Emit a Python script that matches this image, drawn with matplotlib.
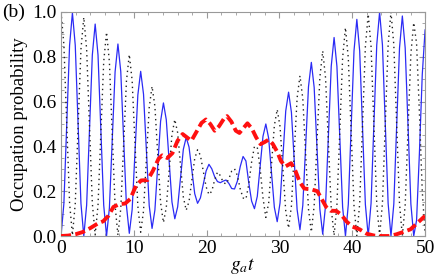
import numpy as np
import matplotlib
matplotlib.use("Agg")
import matplotlib.pyplot as plt
from matplotlib.ticker import MultipleLocator

# time grid for the two fast curves (step 50/128)
t = np.linspace(0, 50, 129)

blue = [0.0, 0.145, 0.498, 0.851, 0.996, 0.851, 0.498, 0.145,
        0.0, 0.138, 0.473, 0.808, 0.946, 0.808, 0.473, 0.138,
        0.0, 0.125, 0.429, 0.732, 0.857, 0.734, 0.435, 0.135,
        0.012, 0.118, 0.374, 0.629, 0.735, 0.633, 0.385, 0.136,
        0.034, 0.116, 0.314, 0.512, 0.594, 0.519, 0.335, 0.152,
        0.077, 0.130, 0.259, 0.387, 0.44, 0.397, 0.293, 0.189,
        0.146, 0.17, 0.23, 0.29, 0.32, 0.30, 0.265, 0.243,
        0.238, 0.245, 0.25, 0.235, 0.212, 0.21, 0.245, 0.31,
        0.355, 0.335, 0.238, 0.156, 0.122, 0.177, 0.311, 0.445,
        0.5, 0.436, 0.282, 0.128, 0.064, 0.148, 0.353, 0.558,
        0.642, 0.552, 0.335, 0.118, 0.028, 0.137, 0.402, 0.666,
        0.775, 0.663, 0.391, 0.120, 0.008, 0.136, 0.447, 0.758,
        0.886, 0.757, 0.443, 0.129, 0.0, 0.141, 0.484, 0.826,
        0.967, 0.826, 0.484, 0.141, 0.0, 0.146, 0.5, 0.853,
        0.999, 0.853, 0.5, 0.146, 0.0, 0.143, 0.491, 0.839,
        0.982, 0.839, 0.491, 0.143, 0.0, 0.07, 0.37, 0.72,
        0.92]

black = [1.0, 0.854, 0.502, 0.149, 0.003, 0.145, 0.49, 0.834,
         0.976, 0.834, 0.49, 0.147, 0.005, 0.137, 0.458, 0.778,
         0.91, 0.778, 0.457, 0.136, 0.004, 0.122, 0.407, 0.692,
         0.81, 0.694, 0.413, 0.133, 0.017, 0.112, 0.343, 0.573,
         0.668, 0.579, 0.364, 0.149, 0.06, 0.127, 0.29, 0.453,
         0.52, 0.461, 0.318, 0.174, 0.115, 0.154, 0.25, 0.346,
         0.385, 0.36, 0.29, 0.22, 0.185, 0.2, 0.25, 0.285,
         0.27, 0.24, 0.232, 0.255, 0.29, 0.30, 0.27, 0.21,
         0.17, 0.165, 0.23, 0.33, 0.40, 0.396, 0.30, 0.171,
         0.083, 0.147, 0.32, 0.493, 0.565, 0.488, 0.30, 0.112,
         0.035, 0.134, 0.375, 0.616, 0.715, 0.613, 0.366, 0.12,
         0.018, 0.136, 0.422, 0.708, 0.826, 0.706, 0.414, 0.123,
         0.003, 0.138, 0.467, 0.795, 0.93, 0.794, 0.465, 0.136,
         0.0, 0.145, 0.495, 0.845, 0.99, 0.845, 0.495, 0.145,
         0.0, 0.146, 0.5, 0.854, 1.0, 0.854, 0.5, 0.146,
         0.0, 0.139, 0.476, 0.813, 0.952, 0.86, 0.55, 0.2,
         0.01]

t_red = [0, 1, 2, 3, 4, 5, 5.8, 6.5, 7.2, 8.0, 8.8, 9.5, 10.3, 11.0, 11.9,
         12.6, 13.4, 13.9, 14.6, 15.3, 16.0, 16.7, 17.3, 17.9, 18.6, 19.3,
         19.9, 20.5, 21.1, 21.7, 22.4, 22.8, 23.4, 24.0, 24.5, 25.0, 25.6,
         26.2, 26.8, 27.4, 28.0, 28.5, 29.1, 29.7, 30.2, 30.8, 31.6, 32.2,
         32.8, 33.4, 34.4, 35.2, 35.8, 36.4, 37.0, 37.8, 38.5, 39.2, 40.0,
         41.0, 42.0, 43.0, 44.0, 45.0, 46.0, 47.0, 48.0, 48.8, 49.5, 50]
red = [0, 0.002, 0.008, 0.018, 0.035, 0.055, 0.066, 0.09, 0.13, 0.142, 0.145,
       0.165, 0.225, 0.248, 0.25, 0.29, 0.345, 0.36, 0.348, 0.37, 0.425,
       0.455, 0.44, 0.425, 0.465, 0.505, 0.52, 0.5, 0.47, 0.49, 0.525, 0.535,
       0.51, 0.47, 0.46, 0.48, 0.503, 0.48, 0.44, 0.41, 0.42, 0.43, 0.41,
       0.375, 0.335, 0.31, 0.325, 0.29, 0.24, 0.212, 0.208, 0.2, 0.165, 0.13,
       0.113, 0.112, 0.095, 0.065, 0.042, 0.03, 0.01, 0.002, 0, 0, 0.007,
       0.018, 0.03, 0.054, 0.075, 0.09]

y_ticks = [0.0, 0.2, 0.4, 0.6, 0.8, 1.0]

plt.rcParams['font.family'] = ['Liberation Serif', 'DejaVu Serif']
plt.rcParams['mathtext.fontset'] = 'stix'

fig = plt.figure(figsize=(4.36, 2.78), dpi=100)
ax = fig.add_axes([0.14, 0.151, 0.835, 0.806])

ax.plot(t, blue, color='#2b2bf5', lw=0.9, zorder=2)
ax.plot(t, black, color='#222222', lw=1.0, ls=(0, (1, 2.6)), zorder=2)
ax.plot(t_red, red, color='#ff1010', lw=2.8, dashes=(2.6, 1.1), zorder=3)

ax.set_xlim(0, 50)
ax.set_ylim(0, 1.0)
ax.xaxis.set_major_locator(MultipleLocator(10))
ax.xaxis.set_minor_locator(MultipleLocator(2))
ax.set_yticks(y_ticks)
ax.set_yticklabels(['%.1f' % v for v in y_ticks])
ax.yaxis.set_minor_locator(MultipleLocator(0.05))

ax.tick_params(which='both', direction='in', top=True, right=True,
               color='#999999', labelsize=14, pad=3)
ax.tick_params(which='major', length=4, width=0.8)
ax.tick_params(which='minor', length=2.2, width=0.6)
for s in ax.spines.values():
    s.set_color('#999999')
    s.set_linewidth(0.8)

ax.set_ylabel('Occupation probability', fontsize=13.5, labelpad=3)
ax.set_xlabel('$g_a t$', fontsize=14, labelpad=-1)
fig.text(0.005, 0.955, '(b)', fontsize=14, va='center')

fig.savefig('out.png', dpi=100)
